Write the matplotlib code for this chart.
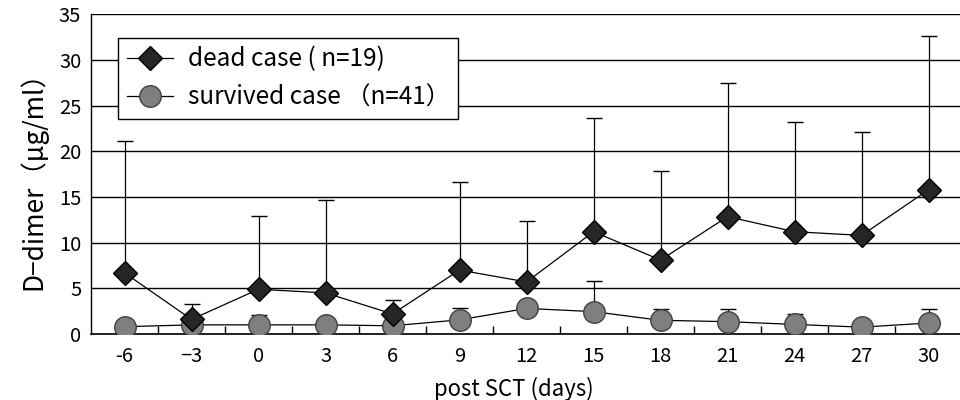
import matplotlib
matplotlib.use("Agg")
import matplotlib.pyplot as plt
import numpy as np

days = ["-6", "\u22123", "0", "3", "6", "9", "12", "15", "18", "21", "24", "27", "30"]
dead_mean = [6.7, 1.6, 4.9, 4.5, 2.2, 7.0, 5.7, 11.2, 8.1, 12.85, 11.2, 10.8, 15.8]
dead_upper = [21.1, 3.3, 12.9, 14.7, 3.7, 16.6, 12.4, 23.7, 17.9, 27.5, 23.2, 22.1, 32.6]
surv_mean = [0.8, 1.0, 1.0, 1.0, 0.9, 1.55, 2.8, 2.45, 1.5, 1.35, 1.05, 0.75, 1.2]
surv_upper = [0.8, 1.0, 2.1, 1.0, 0.9, 2.9, 2.8, 5.85, 2.75, 2.7, 2.2, 0.75, 2.7]

plt.rcParams['font.family'] = ['Noto Sans CJK JP', 'DejaVu Sans']

fig = plt.figure(figsize=(9.6, 4.0), dpi=100)
ax = fig.add_axes([91/960, 66/400, 1 - 91/960 + 0.01, 319.6/400])

x = np.arange(len(days))
dead_err = np.array(dead_upper) - np.array(dead_mean)
surv_err = np.array(surv_upper) - np.array(surv_mean)

ax.errorbar(x, dead_mean, yerr=[np.zeros_like(dead_err), dead_err], fmt='none',
            ecolor='black', elinewidth=0.9, capsize=6, capthick=1.0, zorder=2)
ax.errorbar(x, surv_mean, yerr=[np.zeros_like(surv_err), surv_err], fmt='none',
            ecolor='black', elinewidth=0.9, capsize=6, capthick=1.0, zorder=2)
ax.plot(x, dead_mean, color='black', lw=0.9, marker='D', markersize=12,
        markerfacecolor='#262626', markeredgecolor='black', markeredgewidth=1.0,
        label='dead case ( n=19)', zorder=4)
ax.plot(x, surv_mean, color='black', lw=0.9, marker='o', markersize=15.5,
        markerfacecolor='#7f7f7f', markeredgecolor='#404040', markeredgewidth=1.0,
        label='survived case \uff08n=41\uff09', zorder=3)

ax.set_ylim(0, 35)
ax.set_yticks(np.arange(0, 36, 5))
ax.set_xlim(-0.5, -0.5 + (960 - 91) / 67.3 + 0.2)
ax.set_xticks(x)
ax.set_xticklabels(days)
ax.set_xticks(np.arange(0.5, len(days), 1.0), minor=True)
ax.tick_params(axis='x', which='major', length=0, labelsize=14.5, pad=9)
ax.tick_params(axis='x', which='minor', direction='in', length=6, width=1.0)
ax.tick_params(axis='y', which='major', length=0, labelsize=14.5, pad=7)
ax.yaxis.grid(True, color='black', lw=1.0)
ax.set_axisbelow(True)
for s in ['top', 'right']:
    ax.spines[s].set_visible(False)
ax.spines['left'].set_linewidth(1.0)
ax.spines['bottom'].set_linewidth(1.2)

ax.set_xlabel('post SCT (days)', fontsize=16)
ax.xaxis.set_label_coords(0.481, -0.135)
ax.set_ylabel('D\u2212dimer\uff08\u03bcg/ml\uff09', fontsize=19, labelpad=8)

leg = ax.legend(loc='upper left', bbox_to_anchor=(0.031, 0.926), fontsize=17.5,
                frameon=True, fancybox=False, edgecolor='black', framealpha=1,
                borderpad=0.35, labelspacing=0.5, handlelength=1.9, handletextpad=0.6,
                borderaxespad=0, markerscale=1.0)
leg.get_frame().set_linewidth(1.0)

fig.savefig('out.png', dpi=100)
